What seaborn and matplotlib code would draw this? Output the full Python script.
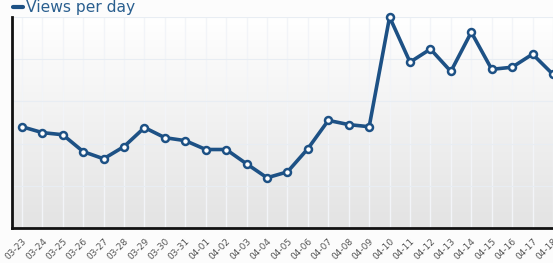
import numpy as np
import matplotlib
matplotlib.use("Agg")
import matplotlib.pyplot as plt
from matplotlib.lines import Line2D
import seaborn as sns
import pandas as pd

dates = ["03-23", "03-24", "03-25", "03-26", "03-27", "03-28", "03-29", "03-30", "03-31",
         "04-01", "04-02", "04-03", "04-04", "04-05", "04-06", "04-07", "04-08", "04-09",
         "04-10", "04-11", "04-12", "04-13", "04-14", "04-15", "04-16", "04-17", "04-18"]
views = [24.0, 22.6, 22.1, 18.1, 16.4, 19.3, 23.8, 21.4, 20.7,
         18.6, 18.6, 15.2, 11.9, 13.3, 18.8, 25.5, 24.5, 24.0,
         50.0, 39.3, 42.4, 37.1, 46.4, 37.6, 38.1, 41.2, 36.4]
y_ticks = [0, 10, 20, 30, 40, 50]

df = pd.DataFrame({"idx": np.arange(len(dates)), "date": dates, "views": views})

sns.set_style("white")
plt.rcParams['font.family'] = ['DejaVu Sans']

W, H = 553, 263
fig = plt.figure(figsize=(W / 100, H / 100), dpi=100)
fig.patch.set_facecolor("#fcfcfc")
left_px, top_px, bottom_px = 12, 17, 228
ax = fig.add_axes([left_px / W, (H - bottom_px) / H, (W - left_px) / W, (bottom_px - top_px) / H])

# gradient background
grad = np.linspace(1, 0, 256).reshape(-1, 1)
c_top = np.array([1.0, 1.0, 1.0])
c_bot = np.array([0.89, 0.89, 0.89])
img = c_bot + (c_top - c_bot) * grad[..., None]
img = np.repeat(img, 2, axis=1)
ax.imshow(img, extent=[0, 1, 0, 1], transform=ax.transAxes, aspect="auto", zorder=0)

line_color = "#1d5185"
sns.lineplot(data=df, x="idx", y="views", ax=ax, color=line_color, linewidth=2.6,
             marker="o", markersize=5, markerfacecolor="white", markeredgecolor=line_color,
             markeredgewidth=1.8, zorder=5, legend=False)
for ln in ax.lines:
    ln.set_clip_on(False)

spacing = 20.56
ax.set_xlim(-(22 - left_px) / spacing, (W - 22) / spacing)
ax.set_ylim(0, 50)
ax.set_xticks(df["idx"])
ax.set_xticklabels(dates, rotation=45, ha="right", va="top", rotation_mode="anchor",
                   fontsize=6.5, color="#555555")
ax.set_yticks(y_ticks)
ax.set_yticklabels([])
ax.set_xlabel("")
ax.set_ylabel("")

for i in df["idx"]:
    ax.axvline(i, color="#f2f4f8", linewidth=1.0, zorder=1)
for t in y_ticks:
    ax.axhline(t, color="#e8edf3", linewidth=0.8, zorder=1)

for s in ["top", "right"]:
    ax.spines[s].set_visible(False)
for s in ["left", "bottom"]:
    ax.spines[s].set_color("#111111")
    ax.spines[s].set_linewidth(2)
    ax.spines[s].set_zorder(6)
ax.tick_params(axis="y", direction="out", length=5, width=1.6, color="#111111", pad=1)
ax.tick_params(axis="x", direction="out", length=4, width=1.6, color="#111111", pad=2)

handle = Line2D([0], [0], color=line_color, linewidth=3)
fig.legend(handles=[handle], labels=["Views per day"], loc="upper left",
           bbox_to_anchor=(0.003, 1.04), frameon=False, handlelength=0.7, handletextpad=0.15,
           prop={"size": 11.2}, labelcolor="#2a5f8f", borderaxespad=0.3)

fig.savefig("out.png", dpi=100, facecolor=fig.get_facecolor())
